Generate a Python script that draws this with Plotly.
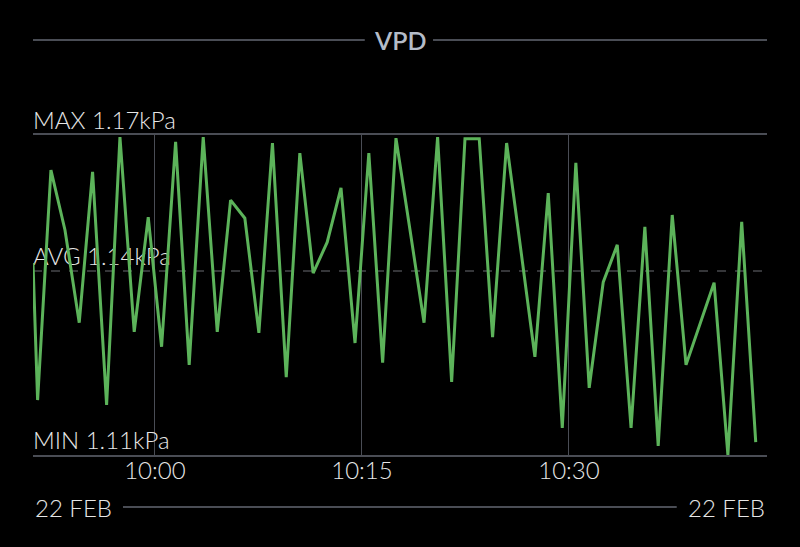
import plotly.graph_objects as go

DAY = "2024-02-22"
times = ["09:51:10", "09:51:30", "09:52:28", "09:53:29", "09:54:31", "09:55:29", "09:56:30", "09:57:28",
         "09:58:30", "09:59:31", "10:00:29", "10:01:30", "10:02:29", "10:03:30", "10:04:31", "10:05:29",
         "10:06:31", "10:07:32", "10:08:31", "10:09:31", "10:10:30", "10:11:28", "10:12:29", "10:13:29",
         "10:14:30", "10:15:30", "10:16:30", "10:17:28", "10:18:29", "10:19:30", "10:20:29", "10:21:30",
         "10:22:28", "10:23:30", "10:24:28", "10:25:29", "10:26:31", "10:27:32", "10:28:30", "10:29:31",
         "10:30:30", "10:31:28", "10:32:29", "10:33:30", "10:34:30", "10:35:30", "10:36:28", "10:37:29",
         "10:38:29", "10:39:30", "10:40:31", "10:41:31", "10:42:31", "10:43:32"]
vpd = [1.1460, 1.1203, 1.1634, 1.1522, 1.1348, 1.1631, 1.1194, 1.1696,
       1.1331, 1.1546, 1.1303, 1.1687, 1.1269, 1.1696, 1.1331, 1.1578,
       1.1544, 1.1329, 1.1685, 1.1246, 1.1666, 1.1441, 1.1499, 1.1601,
       1.1310, 1.1666, 1.1273, 1.1694, 1.1522, 1.1348, 1.1696, 1.1237,
       1.1693, 1.1693, 1.1321, 1.1685, 1.1484, 1.1284, 1.1591, 1.1151,
       1.1648, 1.1226, 1.1424, 1.1494, 1.1151, 1.1528, 1.1117, 1.1550,
       1.1269, 1.1346, 1.1423, 1.1100, 1.1537, 1.1124]
VMAX = 1.17
VAVG = 1.1445
VMIN = 1.11
stat_labels = ["MAX 1.17kPa", "AVG 1.14kPa", "MIN 1.11kPa"]
date_label = "22 FEB"
title = "VPD"
x_start = DAY + " 09:51:10"
x_end = DAY + " 10:44:21"

xs = [DAY + " " + t for t in times]

FONT = "Lato"
TXT = "#e6e6e6"
GRID = "#4a4d55"

fig = go.Figure()
fig.add_trace(go.Scatter(
    x=[x_start] * 3, y=[VMAX, VAVG, VMIN], text=stat_labels, mode="text",
    textposition="top right", cliponaxis=False,
    textfont=dict(family=FONT, size=24, color=TXT, weight=300), hoverinfo="skip", showlegend=False))
fig.add_trace(go.Scatter(
    x=xs, y=vpd, mode="lines", line=dict(color="#5cb35a", width=3),
    showlegend=False, cliponaxis=True))

fig.add_shape(type="line", xref="paper", yref="y", x0=0, x1=1, y0=VAVG, y1=VAVG,
              line=dict(color="#6a6d73", width=1, dash="dash"), layer="below")
# title rules
fig.add_shape(type="line", xref="paper", yref="paper", x0=0, x1=0.452, y0=1.297, y1=1.297,
              line=dict(color=GRID, width=2))
fig.add_shape(type="line", xref="paper", yref="paper", x0=0.545, x1=1, y0=1.297, y1=1.297,
              line=dict(color=GRID, width=2))
# date rule
fig.add_shape(type="line", xref="paper", yref="paper", x0=0.1226, x1=0.877, y0=-0.1625, y1=-0.1625,
              line=dict(color=GRID, width=2))

fig.add_annotation(text=title, xref="paper", yref="paper", x=0.5, y=1.297, showarrow=False,
                   font=dict(family=FONT, size=25, color="#b4bcc8", weight=600), xanchor="center", yanchor="middle")
fig.add_annotation(text=date_label, xref="paper", yref="paper", x=0, y=-0.1625, showarrow=False,
                   font=dict(family=FONT, size=24, color=TXT, weight=300), xanchor="left", yanchor="middle")
fig.add_annotation(text=date_label, xref="paper", yref="paper", x=1, y=-0.1625, showarrow=False,
                   font=dict(family=FONT, size=24, color=TXT, weight=300), xanchor="right", yanchor="middle")

fig.update_layout(
    width=800, height=547,
    margin=dict(l=33, r=33, t=135, b=92),
    paper_bgcolor="#000000", plot_bgcolor="#000000",
    font=dict(family=FONT, color=TXT),
    xaxis=dict(range=[x_start, x_end], type="date", tick0=DAY + " 10:00:00", dtick=15 * 60 * 1000,
               tickformat="%H:%M", showgrid=True, gridcolor=GRID, gridwidth=1,
               showline=True, mirror=True, linecolor=GRID, linewidth=2,
               zeroline=False, ticks="", ticklabelstandoff=-7,
               tickfont=dict(family=FONT, size=24, color=TXT, weight=300)),
    yaxis=dict(range=[VMIN, VMAX], showgrid=False, zeroline=False, showticklabels=False,
               showline=False, ticks=""),
)
fig.write_html("out.html", config={"displayModeBar": False},
               post_script="document.body.style.margin='0px';")
